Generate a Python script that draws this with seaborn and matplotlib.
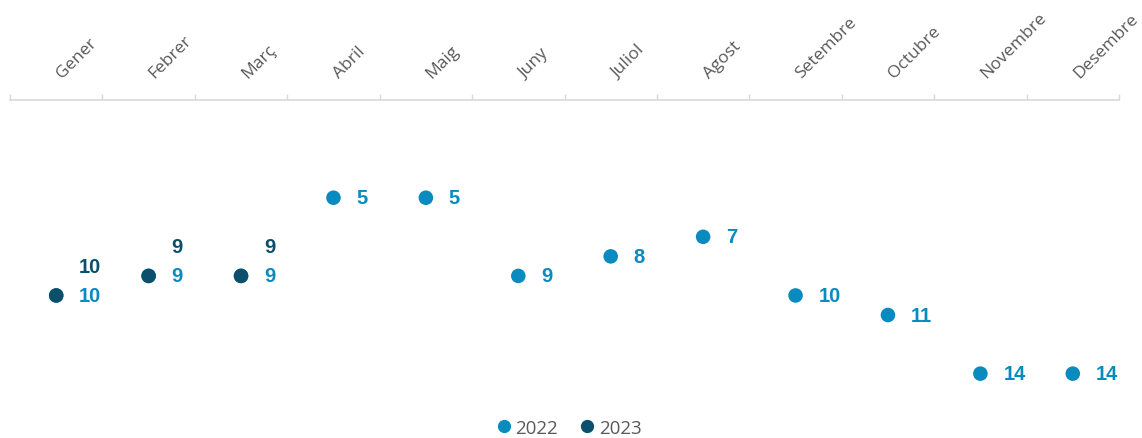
import matplotlib.pyplot as plt
import matplotlib.ticker as mticker
import numpy as np
import pandas as pd
import seaborn as sns

months = ["Gener", "Febrer", "Març", "Abril", "Maig", "Juny", "Juliol",
          "Agost", "Setembre", "Octubre", "Novembre", "Desembre"]
rank_2022 = [10, 9, 9, 5, 5, 9, 8, 7, 10, 11, 14, 14]
rank_2023 = [10, 9, 9]

C22 = "#0a8bbf"
C23 = "#0b4f6c"
GRAY = "#595959"

df = pd.concat([
    pd.DataFrame({"month": months, "rank": rank_2022, "year": "2022"}),
    pd.DataFrame({"month": months[:len(rank_2023)], "rank": rank_2023, "year": "2023"}),
])
df["pos"] = df["month"].map({m: i for i, m in enumerate(months)})

sns.set_theme(style="white")
plt.rcParams["font.family"] = ["Open Sans", "DejaVu Sans"]

fig = plt.figure(figsize=(11.42, 4.39), dpi=100)
ax = fig.add_axes([10 / 1142, 1 - 402 / 439, 1109 / 1142, 301 / 439])

sns.scatterplot(data=df, x="pos", y="rank", hue="year", palette={"2022": C22, "2023": C23},
                s=110, edgecolor="none", ax=ax, legend=False, zorder=3)

for _, r in df.iterrows():
    is22 = r["year"] == "2022"
    ax.annotate(str(r["rank"]), (r["pos"], r["rank"]), xytext=(23, 0 if is22 else 29),
                textcoords="offset pixels", ha="left", va="center",
                color=C22 if is22 else C23, fontsize=14.5, fontweight="bold",
                family="Liberation Sans")

ax.set_xlim(-0.5, 11.5)
ax.set_ylim(15.4, 0)
ax.set_xlabel("")
ax.set_ylabel("")
ax.set_yticks([])
ax.xaxis.tick_top()
# labels sit a touch right of the category centre (major ticks are invisible)
ax.set_xticks(np.arange(len(months)) + 0.065)
ax.set_xticklabels(months, rotation=45, ha="left", va="baseline", rotation_mode="anchor",
                   color=GRAY, fontsize=12.5)
ax.xaxis.set_minor_locator(mticker.FixedLocator(np.arange(-0.5, 12, 1)))
ax.tick_params(axis="x", which="major", length=0, pad=16)
ax.tick_params(axis="x", which="minor", length=4.5, width=1, color="#d9d9d9", direction="out", top=True, bottom=False)
for s in ["left", "right", "bottom"]:
    ax.spines[s].set_visible(False)
ax.spines["top"].set_color("#d9d9d9")
ax.spines["top"].set_linewidth(1.2)

handles = [plt.Line2D([], [], marker="o", ls="", color=C22, markersize=8.5),
           plt.Line2D([], [], marker="o", ls="", color=C23, markersize=8.5)]
fig.legend(handles, ["2022", "2023"], loc="center", bbox_to_anchor=(563 / 1142, 1 - 429 / 439),
           ncol=2, frameon=False, handletextpad=-0.4, columnspacing=0.6, fontsize=13.5,
           labelcolor=GRAY, borderaxespad=0, borderpad=0)

fig.savefig("out.png", dpi=100)
